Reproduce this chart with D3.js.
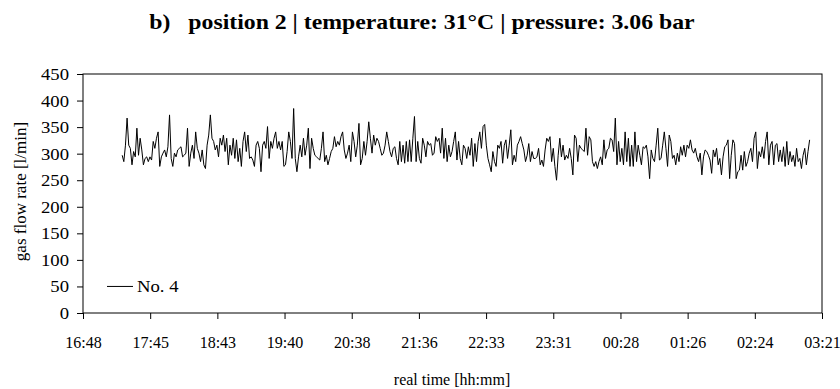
<!DOCTYPE html>
<html><head><meta charset="utf-8">
<script src="https://cdn.jsdelivr.net/npm/d3@7"></script>
<style>
body{margin:0;background:#fff}
svg text{fill:#000}
</style>
</head><body>
<svg id="chart" width="840" height="389"></svg>
<script>
// ---- data ----
const titleText = "b)   position 2 | temperature: 31\u00B0C | pressure: 3.06 bar";
const yAxisTitle = "gas flow rate [l/min]";
const xAxisTitle = "real time [hh:mm]";
const seriesName = "No. 4";
const yTicks = [0, 50, 100, 150, 200, 250, 300, 350, 400, 450];
const xTickLabels = ["16:48","17:45","18:43","19:40","20:38","21:36","22:33","23:31","00:28","01:26","02:24","03:21"];
const axisStartMin = 16 * 60 + 48;   // 16:48
const axisStepMin = 57.6;            // 0.04 day
const dataStartMin = 17 * 60 + 21.6; // first sample
const sampleIntervalMin = 1.4;
const flowRate = [
297,285,316,367,316,310,279,304,294,348,297,329,307,279,291,294,285,294,288,323,
310,329,341,276,294,301,307,294,313,373,291,276,301,294,307,310,313,294,297,301,
348,276,301,316,291,341,310,301,285,307,279,272,316,335,373,329,323,307,316,294,
329,316,335,304,329,279,316,297,329,291,326,285,310,276,323,341,304,335,291,294,
288,276,316,323,310,266,316,323,310,351,291,323,310,329,341,310,323,307,323,276,
279,304,341,323,291,385,291,266,294,316,294,329,297,316,348,272,329,310,297,294,
291,288,310,341,285,297,279,291,304,310,332,313,323,316,332,341,307,291,301,316,
285,341,323,294,316,357,279,291,323,297,323,360,329,301,335,316,329,323,310,297,
301,316,341,323,304,294,
310,313,291,279,323,285,316,282,323,285,326,285,329,370,285,323,291,282,329,316,
294,323,316,319,297,301,332,323,329,301,348,291,329,285,316,294,304,323,341,288,
323,291,279,316,310,291,313,297,329,276,319,285,323,341,310,351,355,316,291,279,
266,304,285,276,316,310,323,282,316,326,291,316,345,279,297,285,316,323,332,319,
307,285,297,319,285,304,291,
291,294,310,279,288,276,307,329,323,332,285,310,276,250,297,329,294,316,288,297,
291,310,291,260,335,329,285,316,310,307,304,348,297,332,326,285,276,285,272,285,
294,279,326,291,307,310,329,326,304,367,279,323,285,310,279,341,285,329,276,316,
276,341,285,316,297,279,313,310,316,294,253,307,291,285,316,348,288,291,316,341,
310,276,335,323,291,
297,279,301,285,313,297,316,294,316,310,326,307,301,310,294,285,301,260,294,307,
304,297,288,263,307,294,310,279,291,260,294,313,316,326,253,297,326,319,253,266,
269,297,269,304,276,285,301,310,285,329,341,272,304,294,313,291,323,341,279,316,
323,279,316,319,285,307,285,313,276,323,279,304,285,297,276,310,285,291,272,297,
310,279,304,326
];

// ---- chart ----
const FONT = "'Liberation Serif','Times New Roman',Times,serif";
const svg = d3.select("#chart");
const plot = {left: 83, right: 822, top: 74, bottom: 313};

function stretch(sel, k) {
  sel.each(function () {
    const w = this.getComputedTextLength();
    d3.select(this).attr("textLength", w * k).attr("lengthAdjust", "spacingAndGlyphs");
  });
}

const xTickVals = xTickLabels.map((_, i) => axisStartMin + i * axisStepMin);
const x = d3.scaleLinear()
  .domain([xTickVals[0], xTickVals[xTickVals.length - 1]])
  .range([plot.left, plot.right]);
const y = d3.scaleLinear().domain([0, 450]).range([plot.bottom, plot.top]);

const series = flowRate.map((v, i) => ({t: dataStartMin + i * sampleIntervalMin, v}));

// frame
svg.append("rect")
  .attr("x", plot.left).attr("y", plot.top)
  .attr("width", plot.right - plot.left).attr("height", plot.bottom - plot.top)
  .attr("fill", "none").attr("stroke", "#000").attr("stroke-width", 1);

// y axis
const gy = svg.append("g").attr("transform", `translate(${plot.left},0)`)
  .call(d3.axisLeft(y).tickValues(yTicks).tickSize(6).tickPadding(8))
  .attr("font-family", FONT).attr("font-size", 17);
gy.select(".domain").remove();
gy.selectAll("line").attr("stroke", "#000");
stretch(gy.selectAll("text"), 1.1);

// x axis
const gx = svg.append("g").attr("transform", `translate(0,${plot.bottom})`)
  .call(d3.axisBottom(x).tickValues(xTickVals).tickFormat((d, i) => xTickLabels[i]).tickSize(6).tickPadding(18))
  .attr("font-family", FONT).attr("font-size", 16);
gx.select(".domain").remove();
gx.selectAll("line").attr("stroke", "#000");

// line
const line = d3.line().x(d => x(d.t)).y(d => y(d.v));
svg.append("path").datum(series)
  .attr("fill", "none").attr("stroke", "#000").attr("stroke-width", 1)
  .attr("d", line);

// legend
const legY = y(50);
svg.append("line").attr("x1", 107).attr("x2", 133).attr("y1", legY).attr("y2", legY)
  .attr("stroke", "#000").attr("stroke-width", 1);
const legText = svg.append("text").attr("x", 137).attr("y", legY).attr("dy", "0.35em")
  .attr("font-family", FONT).attr("font-size", 17).text(seriesName);
stretch(legText, 1.1);

// titles
const title = svg.append("text").attr("x", 422).attr("y", 29).attr("text-anchor", "middle")
  .attr("font-family", FONT).attr("font-size", 22).attr("font-weight", "bold")
  .style("white-space", "pre").text(titleText);
stretch(title, 1.08);
svg.append("text").attr("x", 452).attr("y", 385).attr("text-anchor", "middle")
  .attr("font-family", FONT).attr("font-size", 16).text(xAxisTitle);
svg.append("text").attr("transform", `translate(26,${(plot.top + plot.bottom) / 2 - 2}) rotate(-90)`)
  .attr("text-anchor", "middle").attr("font-family", FONT).attr("font-size", 17).text(yAxisTitle);
</script>
</body></html>
